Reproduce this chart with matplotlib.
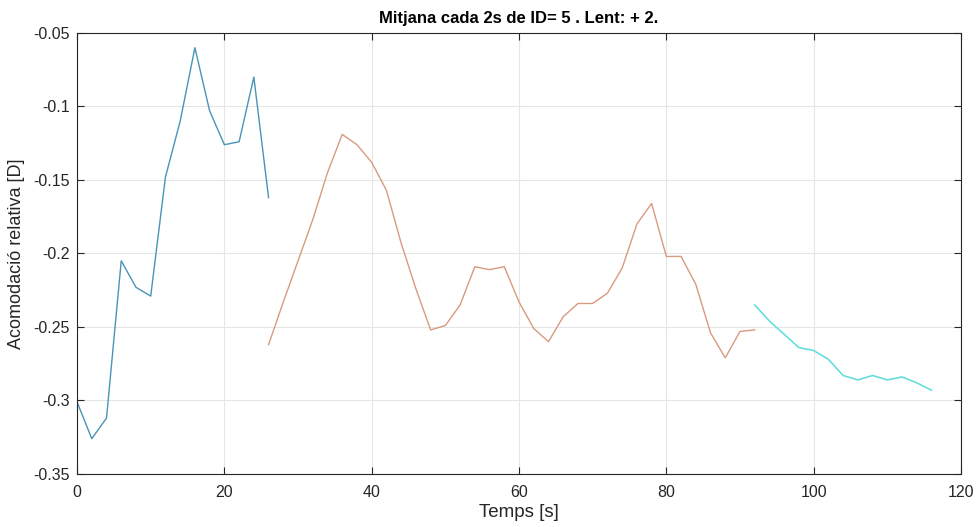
import matplotlib
matplotlib.use('Agg')
import matplotlib.pyplot as plt

plt.rcParams['font.family'] = ['Liberation Sans', 'DejaVu Sans']
plt.rcParams['axes.unicode_minus'] = False

# mitjanes cada 2 s per cada tram
t1 = [0, 2, 4, 6, 8, 10, 12, 14, 16, 18, 20, 22, 24, 26]
acc1 = [-0.301, -0.326, -0.312, -0.205, -0.223, -0.229, -0.148, -0.110, -0.060,
        -0.103, -0.126, -0.124, -0.080, -0.162]

t2 = [26, 28, 30, 32, 34, 36, 38, 40, 42, 44, 46, 48, 50, 52, 54, 56, 58, 60,
      62, 64, 66, 68, 70, 72, 74, 76, 78, 80, 82, 84, 86, 88, 90, 92]
acc2 = [-0.262, -0.233, -0.205, -0.177, -0.145, -0.119, -0.126, -0.138, -0.157,
        -0.193, -0.224, -0.252, -0.249, -0.235, -0.209, -0.211, -0.209, -0.233,
        -0.251, -0.260, -0.243, -0.234, -0.234, -0.227, -0.210, -0.180, -0.166,
        -0.202, -0.202, -0.221, -0.254, -0.271, -0.253, -0.252]

t3 = [92, 94, 96, 98, 100, 102, 104, 106, 108, 110, 112, 114, 116]
acc3 = [-0.235, -0.246, -0.255, -0.264, -0.266, -0.272, -0.283, -0.286, -0.283,
        -0.286, -0.284, -0.288, -0.293]

yticks = [-0.35, -0.3, -0.25, -0.2, -0.15, -0.1, -0.05]
ytick_labels = ['-0.35', '-0.3', '-0.25', '-0.2', '-0.15', '-0.1', '-0.05']
xticks = [0, 20, 40, 60, 80, 100, 120]

fig = plt.figure(figsize=(9.79, 5.27), dpi=100)
ax = fig.add_axes([0.0787, 0.1006, 0.9029, 0.8368])

ax.plot(t1, acc1, color='#4a93b8', lw=1.0)
ax.plot(t2, acc2, color='#d89a80', lw=1.0)
ax.plot(t3, acc3, color='#66dedb', lw=1.2)

ax.set_xlim(0, 120)
ax.set_ylim(-0.35, -0.05)
ax.set_xticks(xticks)
ax.set_yticks(yticks)
ax.set_yticklabels(ytick_labels)
ax.grid(True, color='#e6e6e6', lw=0.8)
ax.set_axisbelow(True)
ax.tick_params(direction='in', top=True, right=True, length=5, width=0.8,
               colors='#262626', labelsize=11.5)
ax.tick_params(axis='x', pad=8)
ax.tick_params(axis='y', pad=5)
for s in ax.spines.values():
    s.set_color('#262626')
    s.set_linewidth(0.8)

ax.set_xlabel('Temps [s]', fontsize=13.5, color='#262626', labelpad=3)
ax.set_ylabel('Acomodació relativa [D]', fontsize=13, color='#262626', labelpad=6)
ax.set_title('Mitjana cada 2s de ID= 5 . Lent: + 2.', fontsize=12, fontweight='bold', pad=7)

fig.savefig('out.png', dpi=100, facecolor='white')
